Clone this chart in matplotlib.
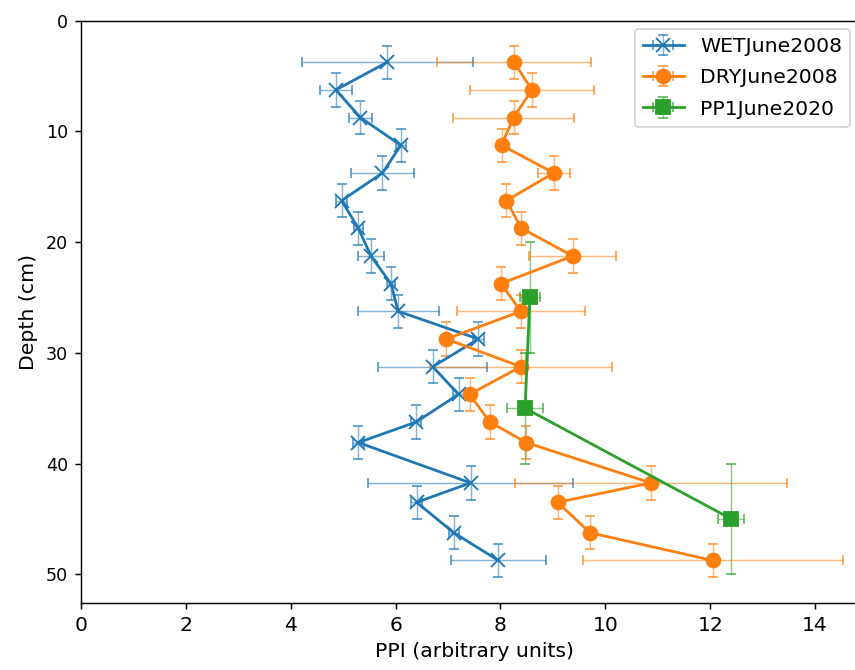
import numpy as np
import matplotlib.pyplot as plt

# depth of each sample (cm)
depth = [3.75, 6.25, 8.75, 11.25, 13.75, 16.25, 18.75, 21.25, 23.75, 26.25,
         28.75, 31.25, 33.75, 36.25, 38.1, 41.75, 43.5, 46.25, 48.75]
depth_err = [1.5] * len(depth)

# WET June 2008
ppi_wet = [5.84, 4.86, 5.33, 6.10, 5.75, 4.97, 5.29, 5.53, 5.91, 6.05,
           7.58, 6.71, 7.20, 6.39, 5.29, 7.43, 6.40, 7.11, 7.96]
err_wet = [1.63, 0.30, 0.22, 0.10, 0.60, 0.10, 0.08, 0.25, 0.08, 0.77,
           0.10, 1.04, 0.10, 0.10, 0.10, 1.95, 0.10, 0.10, 0.91]

# DRY June 2008
ppi_dry = [8.26, 8.60, 8.25, 8.02, 9.02, 8.11, 8.40, 9.38, 8.01, 8.39,
           6.97, 8.39, 7.41, 7.80, 8.49, 10.87, 9.09, 9.71, 12.05]
err_dry = [1.47, 1.19, 1.16, 0.08, 0.30, 0.08, 0.08, 0.83, 0.08, 1.22,
           0.08, 1.73, 0.08, 0.08, 0.08, 2.60, 0.08, 0.08, 2.48]

# PP1 June 2020
depth_pp1 = [25, 35, 45]
depth_pp1_err = [5, 5, 5]
ppi_pp1 = [8.56, 8.47, 12.40]
err_pp1 = [0.19, 0.34, 0.25]

dpi = 133
fig = plt.figure(figsize=(855 / dpi, 670 / dpi), dpi=dpi)
# axes run past the right edge of the picture, as in the original
ax = fig.add_axes([81 / 855, 0.1004, 786.5 / 855, 0.8687])

kw = dict(elinewidth=0.8, capsize=2.5, capthick=1.0, markersize=7.5)
series = [
    (ppi_wet, depth, err_wet, depth_err, '-x', 'tab:blue', 'WETJune2008'),
    (ppi_dry, depth, err_dry, depth_err, '-o', 'tab:orange', 'DRYJune2008'),
    (ppi_pp1, depth_pp1, err_pp1, depth_pp1_err, '-s', 'tab:green', 'PP1June2020'),
]
for x, y, xe, ye, fmt, c, lab in series:
    line, caps, bars = ax.errorbar(x, y, xerr=xe, yerr=ye, fmt=fmt, color=c,
                                   label=lab, **kw)
    # error bars drawn lighter than the data line
    for b in bars:
        b.set_alpha(0.55)
    for cp in caps:
        cp.set_alpha(0.7)

ax.set_xlim(0, 15.0)
ax.set_ylim(52.57, 0)
ax.set_xticks(np.arange(0, 15, 2))
ax.set_yticks(np.arange(0, 51, 10))
ax.tick_params(axis='x', labelsize=11)
ax.tick_params(axis='y', labelsize=9.5)
ax.set_xlabel('PPI (arbitrary units)', fontsize=11)
ax.set_ylabel('Depth (cm)', fontsize=11)

ax.legend(loc='upper right', bbox_to_anchor=(850 / 855, 1 - 29 / 670),
          bbox_transform=fig.transFigure, borderaxespad=0, fontsize=11,
          labelspacing=0.6)

fig.savefig('out.png', dpi=dpi)
